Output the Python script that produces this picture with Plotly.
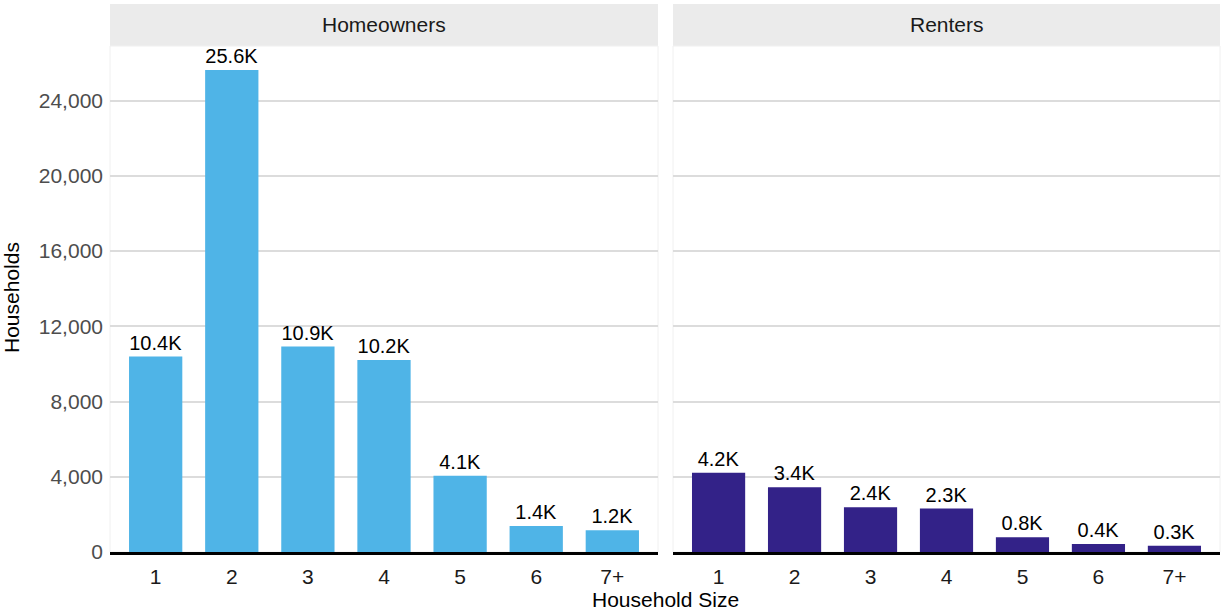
import plotly.graph_objects as go

sizes = ["1", "2", "3", "4", "5", "6", "7+"]
homeowners = [10390, 25620, 10920, 10210, 4060, 1380, 1160]
renters = [4210, 3440, 2380, 2310, 790, 420, 330]
panels = ["Homeowners", "Renters"]
colors = ["#4fb4e7", "#332288"]
y_ticks = [0, 4000, 8000, 12000, 16000, 20000, 24000]

W, H = 1222, 612
ML, MR, MT, MB = 110, 2, 4, 60
pw = W - ML - MR
ph = H - MT - MB
FONT = "Liberation Sans, Arial, sans-serif"

def xf(px):
    return (px - ML) / pw

def yf(py):
    return (H - MB - py) / ph

ytop = yf(46)
xdoms = [[xf(110), xf(658)], [xf(673), xf(1220)]]

fig = go.Figure()
for i, (vals, col) in enumerate(zip([homeowners, renters], colors)):
    ax = "" if i == 0 else str(i + 1)
    fig.add_trace(go.Bar(
        x=sizes, y=vals,
        marker=dict(color=col, line=dict(width=0)),
        width=0.7,
        text=[f"{v/1000:.1f}K" for v in vals],
        textposition="outside",
        textfont=dict(size=20, color="#000000", family=FONT),
        constraintext="none",
        cliponaxis=False,
        xaxis="x" + ax, yaxis="y" + ax,
        showlegend=False,
        hoverinfo="skip",
    ))

ymax = 25620 * 1.05
common_x = dict(
    type="category", range=[-0.6, 6.6], showgrid=False, zeroline=False,
    ticks="", tickfont=dict(size=21, color="#1a1a1a", family=FONT),
    ticklabelstandoff=4,
    showline=True, linecolor="#000000", linewidth=2.5, automargin=False,
)
common_y = dict(
    range=[0, ymax], tickvals=y_ticks, showgrid=True, gridcolor="#dcdcdc",
    gridwidth=2, zeroline=False, ticks="", automargin=False,
)
fig.update_layout(
    width=W, height=H,
    margin=dict(l=ML, r=MR, t=MT, b=MB),
    paper_bgcolor="white", plot_bgcolor="white",
    font=dict(family=FONT, size=21, color="#000000"),
    xaxis=dict(domain=xdoms[0], anchor="y", **common_x),
    xaxis2=dict(domain=xdoms[1], anchor="y2", **common_x),
    yaxis=dict(domain=[0, ytop], anchor="x", tickformat=",", ticklabelstandoff=6,
               tickfont=dict(size=21, color="#4d4d4d", family=FONT),
               **common_y),
    yaxis2=dict(domain=[0, ytop], anchor="x2", showticklabels=False, **common_y),
)

shapes = []
annotations = []
for i, name in enumerate(panels):
    xa = "x" if i == 0 else "x2"
    shapes.append(dict(type="rect", xref=f"{xa} domain", yref="paper",
                       x0=0, x1=1, y0=ytop, y1=1,
                       fillcolor="#ebebeb", line=dict(width=0), layer="below"))
    shapes.append(dict(type="rect", xref=f"{xa} domain", yref="paper",
                       x0=0, x1=1, y0=0, y1=ytop,
                       fillcolor="rgba(0,0,0,0)", line=dict(color="#f0f0f0", width=1), layer="below"))
    annotations.append(dict(text=name, xref=f"{xa} domain", yref="paper",
                            x=0.5, y=(ytop + 1) / 2, showarrow=False,
                            xanchor="center", yanchor="middle",
                            font=dict(size=21, color="#1a1a1a", family=FONT)))
annotations.append(dict(text="Household Size", xref="paper", yref="paper",
                        x=xf(665), y=yf(599), showarrow=False,
                        xanchor="center", yanchor="middle",
                        font=dict(size=21, color="#000000", family=FONT)))
annotations.append(dict(text="Households", xref="paper", yref="paper",
                        x=xf(11), y=yf(298), showarrow=False, textangle=-90,
                        xanchor="center", yanchor="middle",
                        font=dict(size=21, color="#000000", family=FONT)))
fig.update_layout(shapes=shapes, annotations=annotations)

fig.write_html("out.html", config={"displayModeBar": False},
               post_script="document.body.style.margin='0';document.body.style.overflow='hidden';")
